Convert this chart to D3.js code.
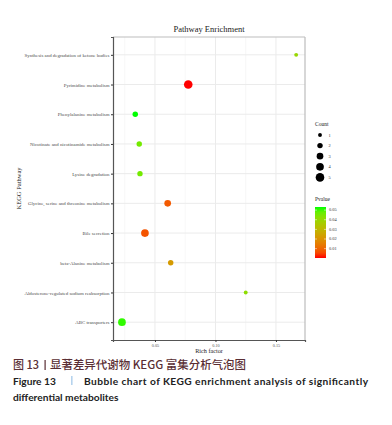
<!DOCTYPE html>
<html><head><meta charset="utf-8">
<script src="https://cdn.jsdelivr.net/npm/d3@7"></script>
<style>body{margin:0;background:#fff}svg{display:block}</style>
</head><body>
<script>
const pathways = ["Synthesis and degradation of ketone bodies","Pyrimidine metabolism","Phenylalanine metabolism","Nicotinate and nicotinamide metabolism","Lysine degradation","Glycine, serine and threonine metabolism","Bile secretion","beta-Alanine metabolism","Aldosterone-regulated sodium reabsorption","ABC transporters"];
const richFactor = [0.1667, 0.0775, 0.0337, 0.0370, 0.0376, 0.0605, 0.0417, 0.0630, 0.1250, 0.0227];
const counts = [1, 5, 2, 2, 2, 3, 4, 2, 1, 4];
const pvalues = [0.040, 0.0003, 0.0532, 0.046, 0.046, 0.008, 0.007, 0.022, 0.042, 0.052];
const xTicks = [0.05, 0.10, 0.15];
const xMinor = [0.025, 0.075, 0.125];
const countBreaks = [1,2,3,4,5];
const pBreaks = [0.05,0.04,0.03,0.02,0.01];

const W=392,H=425;
const svg=d3.select("body").append("svg").attr("width",W).attr("height",H);
const serif="'Liberation Serif','Times New Roman',serif";
const px0=113,px1=305,py0=37,py1=340;
const x=d3.scaleLinear().domain([0.0153,0.174]).range([px0,px1]);
const y=d3.scalePoint().domain(pathways).range([py0,py1]).padding(0.6);
const r=d3.scaleSqrt().domain([0,5]).range([0,4.3]);
const pmin=d3.min(pvalues),pmax=d3.max(pvalues);
const col=d3.scaleLinear().domain([pmin,pmax]).range(["#ff0000","#00ff00"]).interpolate(d3.interpolateLab);

// grid
const g=svg.append("g");
g.selectAll(".vmin").data(xMinor).join("line").attr("x1",d=>x(d)).attr("x2",d=>x(d)).attr("y1",py0).attr("y2",py1).attr("stroke","#f2f2f2").attr("stroke-width",0.6);
g.selectAll(".vmaj").data(xTicks).join("line").attr("x1",d=>x(d)).attr("x2",d=>x(d)).attr("y1",py0).attr("y2",py1).attr("stroke","#ebebeb").attr("stroke-width",1);
g.selectAll(".hmaj").data(pathways).join("line").attr("x1",px0).attr("x2",px1).attr("y1",d=>y(d)).attr("y2",d=>y(d)).attr("stroke","#ebebeb").attr("stroke-width",1);

// border
svg.append("line").attr("x1",px0).attr("x2",px1).attr("y1",py0).attr("y2",py0).attr("stroke","#bdbdbd").attr("stroke-width",1.2);
svg.append("line").attr("x1",px1).attr("x2",px1).attr("y1",py0).attr("y2",py1).attr("stroke","#bdbdbd").attr("stroke-width",1.2);

// points
const data=pathways.map((p,i)=>({p,rf:richFactor[i],c:counts[i],pv:pvalues[i]}));
svg.append("g").selectAll("circle").data(data).join("circle")
 .attr("cx",d=>x(d.rf)).attr("cy",d=>y(d.p)).attr("r",d=>r(d.c)).attr("fill",d=>col(d.pv));

// axes
const yAxis=svg.append("g").attr("transform",`translate(${px0},0)`).call(d3.axisLeft(y).tickSize(2).tickPadding(1.5));
yAxis.selectAll("text").attr("font-family",serif).attr("font-size",4.9).attr("fill","#4d4d4d");
yAxis.selectAll("line").attr("stroke","#333");
yAxis.select(".domain").attr("stroke","#555").attr("stroke-width",1.2);
const xAxis=svg.append("g").attr("transform",`translate(0,${py1})`).call(d3.axisBottom(x).tickValues(xTicks).tickFormat(d3.format(".2f")).tickSize(2).tickPadding(2));
xAxis.selectAll("text").attr("font-family",serif).attr("font-size",4.2).attr("fill","#4d4d4d");
xAxis.selectAll("line").attr("stroke","#333");
xAxis.select(".domain").attr("stroke","#555").attr("stroke-width",1.2);

// titles
svg.append("text").attr("x",(px0+px1)/2).attr("y",32).attr("text-anchor","middle").attr("font-family",serif).attr("font-size",8.5).attr("fill","#222").text("Pathway Enrichment");
svg.append("text").attr("x",(px0+px1)/2).attr("y",353).attr("text-anchor","middle").attr("font-family",serif).attr("font-size",6.2).attr("fill","#222").text("Rich factor");
svg.append("text").attr("transform",`translate(21,${(py0+py1)/2}) rotate(-90)`).attr("text-anchor","middle").attr("font-family",serif).attr("font-size",6.5).attr("fill","#222").text("KEGG Pathway");

// Count legend
const lg=svg.append("g");
lg.append("text").attr("x",315).attr("y",126).attr("font-family",serif).attr("font-size",5.5).attr("fill","#222").text("Count");
const cy0=135,cstep=10.6;
lg.selectAll("circle").data(countBreaks).join("circle").attr("cx",320).attr("cy",(d,i)=>cy0+i*cstep).attr("r",d=>r(d)).attr("fill","#000");
lg.selectAll(".cl").data(countBreaks).join("text").attr("x",328.5).attr("y",(d,i)=>cy0+i*cstep+1.5).attr("font-family",serif).attr("font-size",4.4).attr("fill","#333").text(d=>d);

// Pvalue legend
lg.append("text").attr("x",315).attr("y",201).attr("font-family",serif).attr("font-size",5.5).attr("fill","#222").text("Pvalue");
const cb0=207,cb1=258,cbx=315,cbw=11;
const pscale=d3.scaleLinear().domain([pmin,pmax]).range([cb1,cb0]);
const grad=svg.append("defs").append("linearGradient").attr("id","pg").attr("x1",0).attr("y1",1).attr("x2",0).attr("y2",0);
d3.range(0,1.0001,0.1).forEach(t=>grad.append("stop").attr("offset",t).attr("stop-color",col(pmin+t*(pmax-pmin))));
lg.append("rect").attr("x",cbx).attr("y",cb0).attr("width",cbw).attr("height",cb1-cb0).attr("fill","url(#pg)");
pBreaks.forEach(b=>{
  const yy=pscale(b);
  lg.append("line").attr("x1",cbx).attr("x2",cbx+2).attr("y1",yy).attr("y2",yy).attr("stroke","#fff").attr("stroke-width",0.5);
  lg.append("line").attr("x1",cbx+cbw-2).attr("x2",cbx+cbw).attr("y1",yy).attr("y2",yy).attr("stroke","#fff").attr("stroke-width",0.5);
  lg.append("text").attr("x",329).attr("y",yy+1.4).attr("font-family",serif).attr("font-size",4.4).attr("fill","#333").text(d3.format(".2f")(b));
});

// caption
const cap=svg.append("g");
const cjk="'Noto Sans CJK SC','Noto Sans',sans-serif";
cap.append("text").attr("x",13).attr("y",369).attr("font-family",cjk).attr("font-weight",500).attr("font-size",11).attr("fill","#5a2e34").text("图 13");
cap.append("rect").attr("x",44.5).attr("y",360).attr("width",1.2).attr("height",10).attr("fill","#5a2e34");
cap.append("text").attr("x",50).attr("y",369).attr("font-family",cjk).attr("font-weight",500).attr("font-size",11).attr("fill","#5a2e34").attr("textLength",196).attr("lengthAdjust","spacingAndGlyphs").text("显著差异代谢物 KEGG 富集分析气泡图");
const en="Lato,'Open Sans',sans-serif";
cap.append("text").attr("x",13).attr("y",384.5).attr("font-family",en).attr("font-weight",700).attr("font-size",10.2).attr("fill","#222").text("Figure 13");
cap.append("rect").attr("x",71.5).attr("y",376).attr("width",0.8).attr("height",9).attr("fill","#6fa8dc");
cap.append("text").attr("x",84).attr("y",384.5).attr("font-family",en).attr("font-weight",700).attr("font-size",10.2).attr("fill","#222").attr("textLength",284).attr("lengthAdjust","spacing").text("Bubble chart of KEGG enrichment analysis of significantly");
cap.append("text").attr("x",13).attr("y",401).attr("font-family",en).attr("font-weight",700).attr("font-size",10.2).attr("fill","#222").text("differential metabolites");
</script>
</body></html>
